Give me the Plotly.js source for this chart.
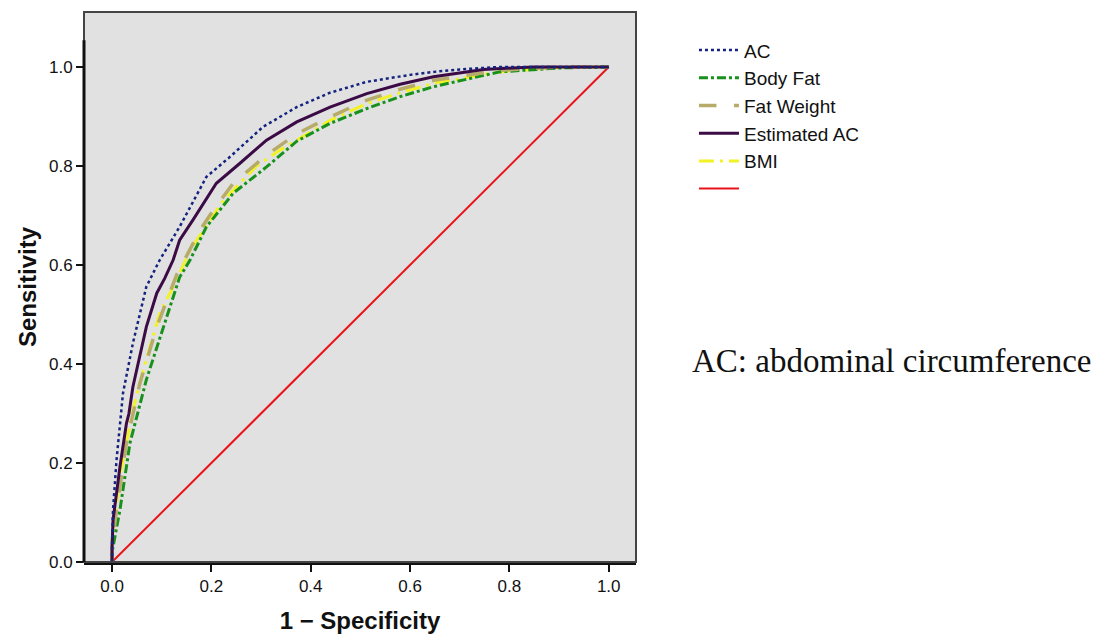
<!DOCTYPE html>
<html>
<head>
<meta charset="utf-8">
<script src="https://cdn.plot.ly/plotly-3.0.1.min.js"></script>
<style>html,body{margin:0;padding:0;background:#fff;}#chart{width:1103px;height:637px;}</style>
</head>
<body>
<div id="chart"></div>
<script>
const seriesNames = ["AC", "Body Fat", "Fat Weight", "Estimated AC", "BMI", ""];

const acX = [0, 0, 0.002, 0.009, 0.022, 0.042, 0.069, 0.096, 0.136, 0.19, 0.237, 0.304, 0.372, 0.439, 0.513, 0.6, 0.647, 0.7, 0.78, 0.85, 0.9, 1.0];
const acY = [0, 0.04, 0.106, 0.206, 0.341, 0.442, 0.556, 0.61, 0.677, 0.778, 0.818, 0.879, 0.919, 0.948, 0.970, 0.984, 0.99, 0.995, 1.0, 1.0, 1.0, 1.0];

const bodyFatX = [0, 0, 0.016, 0.036, 0.069, 0.103, 0.136, 0.157, 0.19, 0.244, 0.311, 0.372, 0.439, 0.513, 0.58, 0.647, 0.78, 0.9, 1.0];
const bodyFatY = [0, 0.02, 0.106, 0.24, 0.368, 0.475, 0.575, 0.61, 0.677, 0.745, 0.798, 0.85, 0.886, 0.916, 0.94, 0.96, 0.99, 0.998, 1.0];

const fatWeightX = [0, 0, 0.009, 0.029, 0.056, 0.09, 0.13, 0.177, 0.204, 0.244, 0.311, 0.372, 0.439, 0.513, 0.58, 0.647, 0.78, 0.9, 1.0];
const fatWeightY = [0, 0.03, 0.106, 0.24, 0.361, 0.475, 0.58, 0.67, 0.711, 0.765, 0.822, 0.865, 0.899, 0.933, 0.955, 0.973, 0.993, 1.0, 1.0];

const estACX = [0, 0, 0.002, 0.016, 0.029, 0.034, 0.042, 0.069, 0.09, 0.106, 0.123, 0.136, 0.163, 0.21, 0.257, 0.311, 0.372, 0.439, 0.513, 0.58, 0.647, 0.748, 0.848, 1.0];
const estACY = [0, 0.03, 0.085, 0.193, 0.28, 0.30, 0.354, 0.475, 0.543, 0.573, 0.61, 0.65, 0.691, 0.765, 0.805, 0.852, 0.889, 0.919, 0.946, 0.965, 0.98, 0.995, 1.0, 1.0];

const bmiX = [0, 0, 0.016, 0.042, 0.069, 0.096, 0.13, 0.157, 0.224, 0.291, 0.338, 0.439, 0.513, 0.58, 0.647, 0.78, 0.9, 1.0];
const bmiY = [0, 0.05, 0.173, 0.308, 0.409, 0.502, 0.57, 0.63, 0.73, 0.8, 0.832, 0.892, 0.926, 0.948, 0.967, 0.99, 0.999, 1.0];

const refX = [0, 1];
const refY = [0, 1];

const tickVals = [0, 0.2, 0.4, 0.6, 0.8, 1.0];
const tickText = ["0.0", "0.2", "0.4", "0.6", "0.8", "1.0"];

const traces = [
  {x: refX, y: refY, name: seriesNames[5], mode: "lines", line: {color: "#e8141a", width: 2}, legendrank: 6},
  {x: bmiX, y: bmiY, name: seriesNames[4], mode: "lines", line: {color: "#f2f224", width: 3, dash: "longdashdot"}, legendrank: 5},
  {x: bodyFatX, y: bodyFatY, name: seriesNames[1], mode: "lines", line: {color: "#17901c", width: 3, dash: "dashdot"}, legendrank: 2},
  {x: fatWeightX, y: fatWeightY, name: seriesNames[2], mode: "lines", line: {color: "#b7ab6a", width: 3.5, dash: "longdash"}, legendrank: 3},
  {x: estACX, y: estACY, name: seriesNames[3], mode: "lines", line: {color: "#3b0b45", width: 3}, legendrank: 4},
  {x: acX, y: acY, name: seriesNames[0], mode: "lines", line: {color: "#14237f", width: 2.5, dash: "dot"}, legendrank: 1}
];

const layout = {
  width: 1103, height: 637,
  paper_bgcolor: "#ffffff",
  plot_bgcolor: "#e1e1e1",
  margin: {l: 84, r: 467, t: 12, b: 75},
  font: {family: "Liberation Sans, Arial, sans-serif", color: "#111"},
  xaxis: {
    range: [-0.0565, 1.055], tickvals: tickVals, ticktext: tickText,
    ticks: "outside", ticklen: 7, tickwidth: 2, tickcolor: "#111",
    showline: true, linewidth: 2.5, linecolor: "#111",
    showgrid: false, zeroline: false, fixedrange: true,
    tickfont: {size: 17, family: "Liberation Sans, Arial, sans-serif"},
    title: {text: "<b>1 − Specificity</b>", font: {size: 24, family: "Liberation Sans, Arial, sans-serif"}, standoff: 18}
  },
  yaxis: {
    range: [0, 1.111], tickvals: tickVals, ticktext: tickText,
    ticks: "outside", ticklen: 7, tickwidth: 2, tickcolor: "#111",
    showline: false,
    showgrid: false, zeroline: false, fixedrange: true,
    tickfont: {size: 17, family: "Liberation Sans, Arial, sans-serif"},
    title: {text: "<b>Sensitivity</b>", font: {size: 24, family: "Liberation Sans, Arial, sans-serif"}, standoff: 5}
  },
  showlegend: true,
  legend: {
    x: 1.105, xanchor: "left", y: 0.965, yanchor: "top",
    bgcolor: "rgba(0,0,0,0)", traceorder: "normal",
    font: {size: 19, family: "Liberation Sans, Arial, sans-serif", color: "#111"},
    itemwidth: 40, tracegroupgap: 0
  },
  shapes: [
    {type: "rect", xref: "paper", yref: "paper", x0: 0, x1: 1, y0: 0, y1: 1, line: {color: "#444", width: 2}, fillcolor: "rgba(0,0,0,0)", layer: "above"},
    {type: "line", xref: "paper", yref: "y", x0: 0, x1: 0, y0: 0, y1: 1.054, line: {color: "#111", width: 3}, layer: "above"}
  ],
  annotations: [
    {text: "AC: abdominal circumference", xref: "paper", yref: "paper", x: 1.098, xanchor: "left", y: 0.365, yanchor: "middle", showarrow: false, font: {family: "Liberation Serif, Times New Roman, serif", size: 33, color: "#111"}}
  ]
};

Plotly.newPlot("chart", traces, layout, {displayModeBar: false, staticPlot: true});
</script>
</body>
</html>
